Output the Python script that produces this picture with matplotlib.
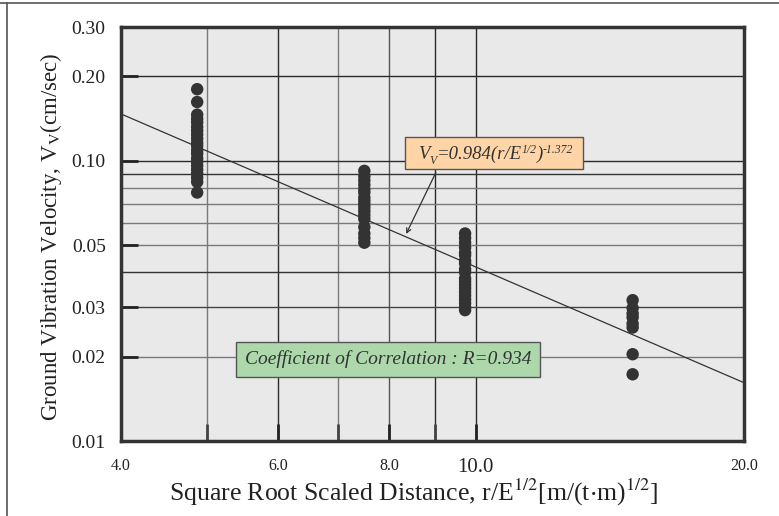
import matplotlib
matplotlib.use("Agg")
import matplotlib.pyplot as plt
from matplotlib.lines import Line2D
from matplotlib.patches import Rectangle
import numpy as np

plt.rcParams['font.family'] = ['Liberation Serif', 'DejaVu Serif']
plt.rcParams['mathtext.fontset'] = 'stix'

# ---- data ----
group_x = [4.87, 7.5, 9.73, 15.0]
group1_v = [0.180, 0.162, 0.146, 0.141, 0.137, 0.132, 0.128, 0.124, 0.120, 0.116,
            0.113, 0.109, 0.106, 0.102, 0.099, 0.096, 0.093, 0.090, 0.087, 0.084, 0.077]
group2_v = [0.092, 0.088, 0.085, 0.082, 0.079, 0.077, 0.074, 0.072, 0.070, 0.068,
            0.066, 0.064, 0.062, 0.058, 0.055, 0.053, 0.051]
group3_v = [0.055, 0.053, 0.051, 0.049, 0.047, 0.046, 0.044, 0.043, 0.041, 0.040,
            0.038, 0.037, 0.036, 0.035, 0.034, 0.033, 0.032, 0.031, 0.030, 0.0293]
group4_v = [0.0318, 0.0298, 0.0285, 0.0276, 0.0262, 0.0254, 0.0204, 0.0173]
groups_v = [group1_v, group2_v, group3_v, group4_v]

fit_k = 0.984
fit_n = -1.372
R_value = 0.934

xticks = [4.0, 6.0, 8.0, 10.0, 20.0]
xtick_labels = ["4.0", "6.0", "8.0", "10.0", "20.0"]
xgrid = [5, 6, 7, 8, 9, 10]
yticks = [0.01, 0.02, 0.03, 0.05, 0.10, 0.20, 0.30]
ytick_labels = ["0.01", "0.02", "0.03", "0.05", "0.10", "0.20", "0.30"]
ygrid = [0.02, 0.03, 0.04, 0.05, 0.06, 0.07, 0.08, 0.09, 0.10, 0.20]

W, H = 779, 516
# ---- figure ----
fig = plt.figure(figsize=(W/100, H/100), dpi=100)
ax = fig.add_axes([121/W, 1-441/H, (744-121)/W, (441-27)/H])
ax.set_facecolor('#e9e9e9')
ax.set_xscale('log')
ax.set_yscale('log')
ax.set_xlim(4, 20)
ax.set_ylim(0.01, 0.30)

xgrid_col = ['#7a7a7a', '#2a2a2a', '#7a7a7a', '#555555', '#2a2a2a', '#2a2a2a']
for g, c in zip(xgrid, xgrid_col):
    ax.axvline(g, color=c, lw=1.0, zorder=1)
ygrid_col = ['#7a7a7a', '#444444', '#333333', '#7a7a7a', '#7a7a7a', '#7a7a7a',
             '#7a7a7a', '#333333', '#2a2a2a', '#2a2a2a']
for g, c in zip(ygrid, ygrid_col):
    ax.axhline(g, color=c, lw=1.0, zorder=1)

for gx, gv in zip(group_x, groups_v):
    ax.scatter([gx]*len(gv), gv, s=80, color='#333333', edgecolors='none', zorder=3)

xf = np.array([4.0, 20.0])
ax.plot(xf, fit_k * xf**fit_n, color='#333333', lw=0.9, zorder=2)

ax.set_xticks(xticks)
ax.set_xticklabels(xtick_labels)
ax.xaxis.set_minor_locator(matplotlib.ticker.FixedLocator([5, 7, 9]))
ax.xaxis.set_minor_formatter(matplotlib.ticker.NullFormatter())
ax.set_yticks(yticks)
ax.set_yticklabels(ytick_labels)
ax.yaxis.set_minor_locator(matplotlib.ticker.NullLocator())
ax.tick_params(axis='both', which='both', direction='in', length=12, width=2, color='#444444')
ax.tick_params(axis='y', labelsize=14, pad=11, colors='#222222')
ax.tick_params(axis='x', labelsize=11.5, pad=12, colors='#222222')
for lbl in ax.get_xticklabels():
    if lbl.get_text() == "10.0":
        lbl.set_fontsize(15)

for s in ax.spines.values():
    s.set_linewidth(2.5)
    s.set_color('#333333')

ax.set_xlabel(r"Square Root Scaled Distance, r/E$^{1/2}$[m/(t$\cdot$m)$^{1/2}$]",
              fontsize=18.5, color='#222222')
ax.xaxis.set_label_coords(0.47, -0.088)
ax.set_ylabel(r"Ground Vibration Velocity, V$_{\mathrm{V}}$(cm/sec)",
              fontsize=16.5, color='#222222')
ax.yaxis.set_label_coords(-0.092, 0.494)

# equation box (layout in figure pixels)
def fpx(x, y):
    return (x / W, 1 - y / H)

bx0, by0, bx1, by1 = 405, 137, 583, 169
fig.add_artist(Rectangle(fpx(bx0, by1), (bx1-bx0)/W, (by1-by0)/H, transform=fig.transFigure,
                         fc='#ffd5a8', ec='#555555', lw=1, zorder=5))
pieces = [("V", 13.5, 0), ("V", 8.5, -5), ("=0.984(r/E", 13.5, 0), ("1/2", 8.5, 6),
          (")", 13.5, 0), ("-1.372", 8.5, 6)]
renderer = fig.canvas.get_renderer()
cx = 418
base_y = 159
for txt, fs, dy in pieces:
    t = fig.text(*fpx(cx, base_y - dy), txt, fontsize=fs, style='italic', color='#333333',
                 ha='left', va='baseline', zorder=6)
    bb = t.get_window_extent(renderer)
    cx += bb.width

xa = 8.33
ax.annotate("", xy=(xa, fit_k * xa**fit_n), xytext=(9.05, 0.0926),
            arrowprops=dict(arrowstyle='->', color='#333333', lw=0.9, mutation_scale=8),
            zorder=4)

ax.text(7.98, 0.01957, "Coefficient of Correlation : R=%.3f" % R_value, fontsize=14,
        style='italic', ha='center', va='center', color='#333333', zorder=5,
        bbox=dict(boxstyle='square,pad=0.45', fc='#acd8ac', ec='#555555', lw=1))

# outer frame lines
fig.add_artist(Line2D([0, 1], [1-3/H, 1-3/H], color='#555555', lw=1.2))
fig.add_artist(Line2D([7/W, 7/W], [0, 1-3/H], color='#555555', lw=1.2))

fig.savefig("out.png", dpi=100)
